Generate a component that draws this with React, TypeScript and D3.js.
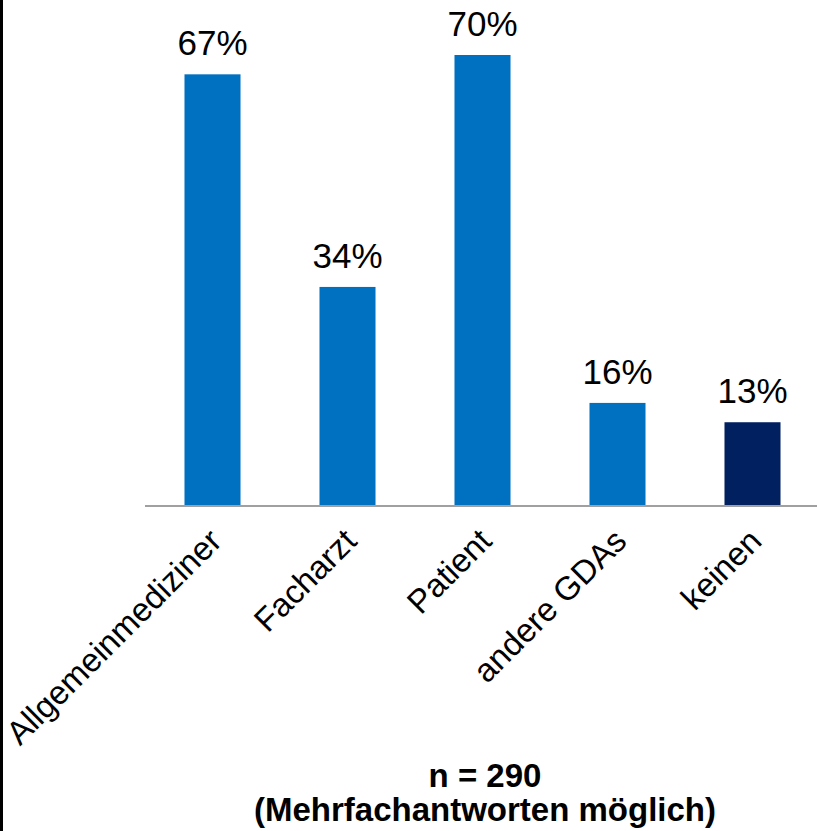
import React, { useEffect, useRef } from 'react';
import * as d3 from 'd3';

const categories = ['Allgemeinmediziner', 'Facharzt', 'Patient', 'andere GDAs', 'keinen'];
const values = [67, 34, 70, 16, 13];
const barColors = ['#0070C0', '#0070C0', '#0070C0', '#0070C0', '#002060'];
const footnoteLines = ['n = 290', '(Mehrfachantworten möglich)'];

const W = 817;
const H = 831;

export default function App() {
  const svgRef = useRef<SVGSVGElement>(null);

  useEffect(() => {
    if (!svgRef.current) return;
    const svg = d3.select(svgRef.current);
    svg.selectAll('*').remove();

    const baseY = 506;
    const font = "Arial, 'Liberation Sans', sans-serif";

    const x = d3.scaleBand<string>()
      .domain(categories)
      .range([145, 820])
      .paddingInner(0.585)
      .paddingOuter(0.2925);

    const y = d3.scaleLinear()
      .domain([0, 70])
      .range([baseY, 55]);

    // left frame line
    svg.append('line')
      .attr('x1', 1.5).attr('x2', 1.5)
      .attr('y1', 0).attr('y2', H)
      .attr('stroke', '#000')
      .attr('stroke-width', 3);

    // bars
    svg.selectAll('rect.bar')
      .data(values)
      .enter()
      .append('rect')
      .attr('class', 'bar')
      .attr('x', (_, i) => x(categories[i]) || 0)
      .attr('width', x.bandwidth())
      .attr('y', d => y(d))
      .attr('height', d => baseY - y(d))
      .attr('fill', (_, i) => barColors[i]);

    // baseline
    svg.append('line')
      .attr('x1', 145).attr('x2', W)
      .attr('y1', baseY).attr('y2', baseY)
      .attr('stroke', '#a0a0a0')
      .attr('stroke-width', 2);

    // value labels
    svg.selectAll('text.val')
      .data(values)
      .enter()
      .append('text')
      .attr('class', 'val')
      .attr('x', (_, i) => (x(categories[i]) || 0) + x.bandwidth() / 2)
      .attr('y', d => y(d) - 19)
      .attr('text-anchor', 'middle')
      .style('font-family', font)
      .style('font-size', '35px')
      .style('fill', '#000')
      .text(d => `${d}%`);

    // category labels, rotated
    svg.selectAll('text.cat')
      .data(categories)
      .enter()
      .append('text')
      .attr('class', 'cat')
      .attr('text-anchor', 'end')
      .attr('transform', d => `translate(${(x(d) || 0) + x.bandwidth() / 2 + 11},543) rotate(-45)`)
      .style('font-family', font)
      .style('font-size', '33px')
      .style('fill', '#000')
      .text(d => d);

    // footnote
    svg.selectAll('text.foot')
      .data(footnoteLines)
      .enter()
      .append('text')
      .attr('class', 'foot')
      .attr('x', 485)
      .attr('y', (_, i) => 787 + i * 34)
      .attr('text-anchor', 'middle')
      .style('font-family', font)
      .style('font-size', '33px')
      .style('font-weight', 'bold')
      .style('fill', '#000')
      .text(d => d);
  }, []);

  return (
    <svg
      ref={svgRef}
      width={W}
      height={H}
      style={{ position: 'absolute', left: 0, top: 0, background: '#fff' }}
    />
  );
}
